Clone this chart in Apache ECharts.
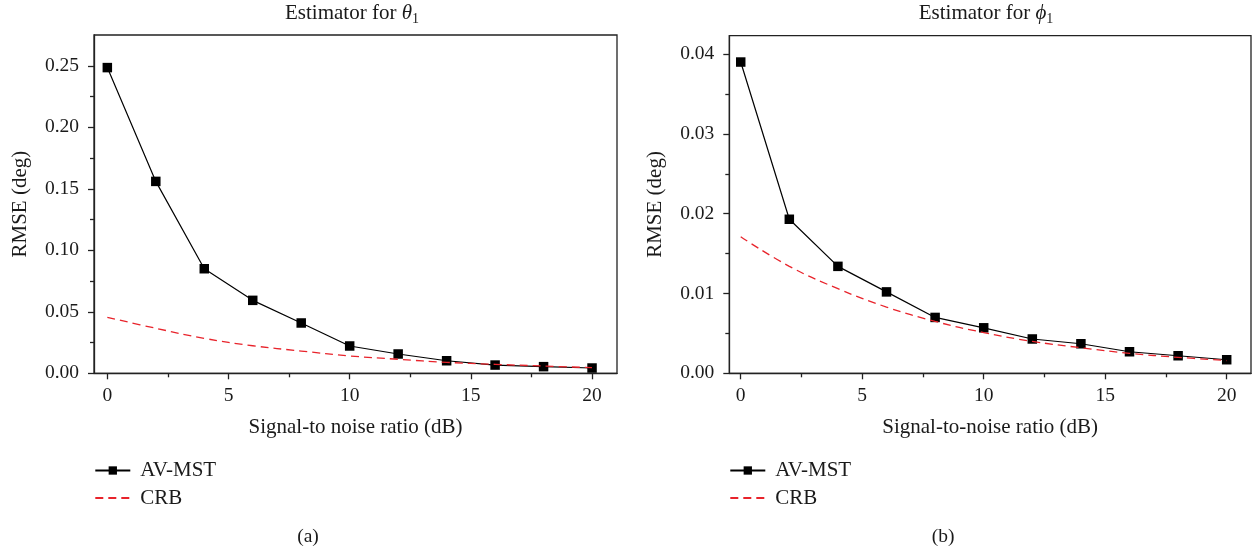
<!DOCTYPE html>
<html>
<head>
<meta charset="utf-8">
<script src="https://cdn.jsdelivr.net/npm/echarts@6/dist/echarts.min.js"></script>
<style>
  html, body { margin: 0; padding: 0; background: #ffffff; }
  #chart { width: 1257px; height: 556px; }
</style>
</head>
<body>
<div id="chart"></div>
<script>
// SNR grid (dB) shared by both estimators
const snr = [0, 2, 4, 6, 8, 10, 12, 14, 16, 18, 20];

// Panel (a): RMSE of the theta_1 estimate
const thetaAvMst = [0.2485, 0.156, 0.085, 0.0593, 0.0409, 0.0222, 0.0157, 0.0102, 0.0067, 0.0054, 0.0043];
const thetaCrb   = [0.0455, 0.0366, 0.0284, 0.0224, 0.0181, 0.0141, 0.0114, 0.0089, 0.0073, 0.0059, 0.0046];

// Panel (b): RMSE of the phi_1 estimate
const phiAvMst = [0.0390, 0.0193, 0.0134, 0.0102, 0.0070, 0.0057, 0.0043, 0.0037, 0.0027, 0.0022, 0.0017];
const phiCrb   = [0.0171, 0.0134, 0.0106, 0.0083, 0.0065, 0.0051, 0.0040, 0.0032, 0.0025, 0.0020, 0.0016];

// Tick positions
const xMajor = [0, 5, 10, 15, 20];
const xMinor = [2.5, 7.5, 12.5, 17.5];
const yMajorA = [0, 0.05, 0.10, 0.15, 0.20, 0.25];
const yMinorA = [0.025, 0.075, 0.125, 0.175, 0.225];
const yMajorB = [0, 0.01, 0.02, 0.03, 0.04];
const yMinorB = [0.005, 0.015, 0.025, 0.035];

const seriesNames = ['AV-MST', 'CRB'];

const FONT = '"Liberation Serif", "DejaVu Serif", serif';
const FS = 19.5;      // tick labels
const FS_NAME = 21;   // titles, axis names, legend
const INK = '#1a1a1a';
const FRAME = '#222222';
const RED = '#e8232b';

const chart = echarts.init(document.getElementById('chart'), null, { renderer: 'canvas' });

function mainX(gridIndex, min, max, name) {
  return {
    type: 'value', gridIndex, min, max, position: 'bottom',
    name, nameLocation: 'middle', nameGap: 44,
    nameTextStyle: { fontFamily: FONT, fontSize: FS_NAME, color: INK },
    axisLine: { show: true, onZero: false, lineStyle: { color: FRAME, width: 1.3 } },
    axisTick: { show: true, customValues: xMajor, length: 6, lineStyle: { color: FRAME, width: 1.3 } },
    axisLabel: { customValues: xMajor, margin: 13, fontFamily: FONT, fontSize: FS, color: INK },
    splitLine: { show: false }
  };
}
function minorX(gridIndex, min, max) {
  return {
    type: 'value', gridIndex, min, max, position: 'bottom',
    axisLine: { show: false, onZero: false },
    axisTick: { show: true, customValues: xMinor, length: 4, lineStyle: { color: FRAME, width: 1.3 } },
    axisLabel: { show: false },
    splitLine: { show: false }
  };
}
function mainY(gridIndex, max, ticks) {
  return {
    type: 'value', gridIndex, min: 0, max, position: 'left',
    name: 'RMSE (deg)', nameLocation: 'middle', nameGap: 63,
    nameTextStyle: { fontFamily: FONT, fontSize: FS_NAME, color: INK },
    axisLine: { show: true, onZero: false, lineStyle: { color: FRAME, width: 1.3 } },
    axisTick: { show: true, customValues: ticks, length: 6, lineStyle: { color: FRAME, width: 1.3 } },
    axisLabel: { customValues: ticks, margin: 15, fontFamily: FONT, fontSize: FS, color: INK,
                 formatter: v => v.toFixed(2) },
    splitLine: { show: false }
  };
}
function minorY(gridIndex, max, ticks) {
  return {
    type: 'value', gridIndex, min: 0, max, position: 'left',
    axisLine: { show: false, onZero: false },
    axisTick: { show: true, customValues: ticks, length: 4, lineStyle: { color: FRAME, width: 1.3 } },
    axisLabel: { show: false },
    splitLine: { show: false }
  };
}

function pairs(xs, ys) { return xs.map((x, i) => [x, ys[i]]); }

function avMstSeries(axisIndex, values) {
  return {
    name: seriesNames[0], type: 'line', xAxisIndex: axisIndex, yAxisIndex: axisIndex,
    data: pairs(snr, values), symbol: 'rect', symbolSize: 9.5, z: 3,
    lineStyle: { color: '#000', width: 1.2 },
    itemStyle: { color: '#000' }
  };
}
function crbSeries(axisIndex, values) {
  return {
    name: seriesNames[1], type: 'line', xAxisIndex: axisIndex, yAxisIndex: axisIndex,
    data: pairs(snr, values), symbol: 'none', showSymbol: false, smooth: 0.4, z: 4,
    lineStyle: { color: RED, width: 1.3, type: [8, 5] },
    itemStyle: { color: RED }
  };
}

function legendAt(left) {
  return {
    left, top: 460, orient: 'vertical', padding: 0,
    itemWidth: 35, itemHeight: 10.4, itemGap: 6.6,
    data: [
      { name: seriesNames[0] },
      { name: seriesNames[1], itemStyle: { opacity: 0 } }
    ],
    textStyle: { fontFamily: FONT, fontSize: FS_NAME, color: INK, padding: [0, 0, 0, 5] }
  };
}

const titleRich = {
  a: { fontFamily: FONT, fontSize: FS_NAME, color: INK, fontWeight: 'normal', lineHeight: 25 },
  g: { fontFamily: FONT, fontSize: FS_NAME, color: INK, fontWeight: 'normal', fontStyle: 'italic', lineHeight: 25 },
  s: { fontFamily: FONT, fontSize: 14, color: INK, fontWeight: 'normal', lineHeight: 15, verticalAlign: 'bottom' }
};

chart.setOption({
  backgroundColor: '#ffffff',
  animation: false,
  title: [
    { text: '{a|Estimator for }{g|θ}{s|1}', left: 352, top: 1, textAlign: 'center', padding: 0,
      textStyle: { fontWeight: 'normal', rich: titleRich } },
    { text: '{a|Estimator for }{g|ϕ}{s|1}', left: 986, top: 1, textAlign: 'center', padding: 0,
      textStyle: { fontWeight: 'normal', rich: titleRich } },
    { text: '(a)', left: 308, top: 527, textAlign: 'center', padding: 0,
      textStyle: { fontFamily: FONT, fontSize: FS, color: INK, fontWeight: 'normal' } },
    { text: '(b)', left: 943, top: 527, textAlign: 'center', padding: 0,
      textStyle: { fontFamily: FONT, fontSize: FS, color: INK, fontWeight: 'normal' } }
  ],
  legend: [legendAt(94.3), legendAt(729.3)],
  grid: [
    { left: 94, right: 640, top: 35, bottom: 182.7, show: true, borderColor: FRAME, borderWidth: 1.3, backgroundColor: 'transparent' },
    { left: 729.3, right: 6, top: 35.7, bottom: 182.7, show: true, borderColor: FRAME, borderWidth: 1.3, backgroundColor: 'transparent' }
  ],
  xAxis: [
    mainX(0, -0.55, 21.03, 'Signal-to noise ratio (dB)'),
    mainX(1, -0.47, 21.0, 'Signal-to-noise ratio (dB)'),
    minorX(0, -0.55, 21.03),
    minorX(1, -0.47, 21.0)
  ],
  yAxis: [
    mainY(0, 0.275, yMajorA),
    mainY(1, 0.0423, yMajorB),
    minorY(0, 0.275, yMinorA),
    minorY(1, 0.0423, yMinorB)
  ],
  series: [
    avMstSeries(0, thetaAvMst),
    crbSeries(0, thetaCrb),
    avMstSeries(1, phiAvMst),
    crbSeries(1, phiCrb)
  ]
});
</script>
</body>
</html>
